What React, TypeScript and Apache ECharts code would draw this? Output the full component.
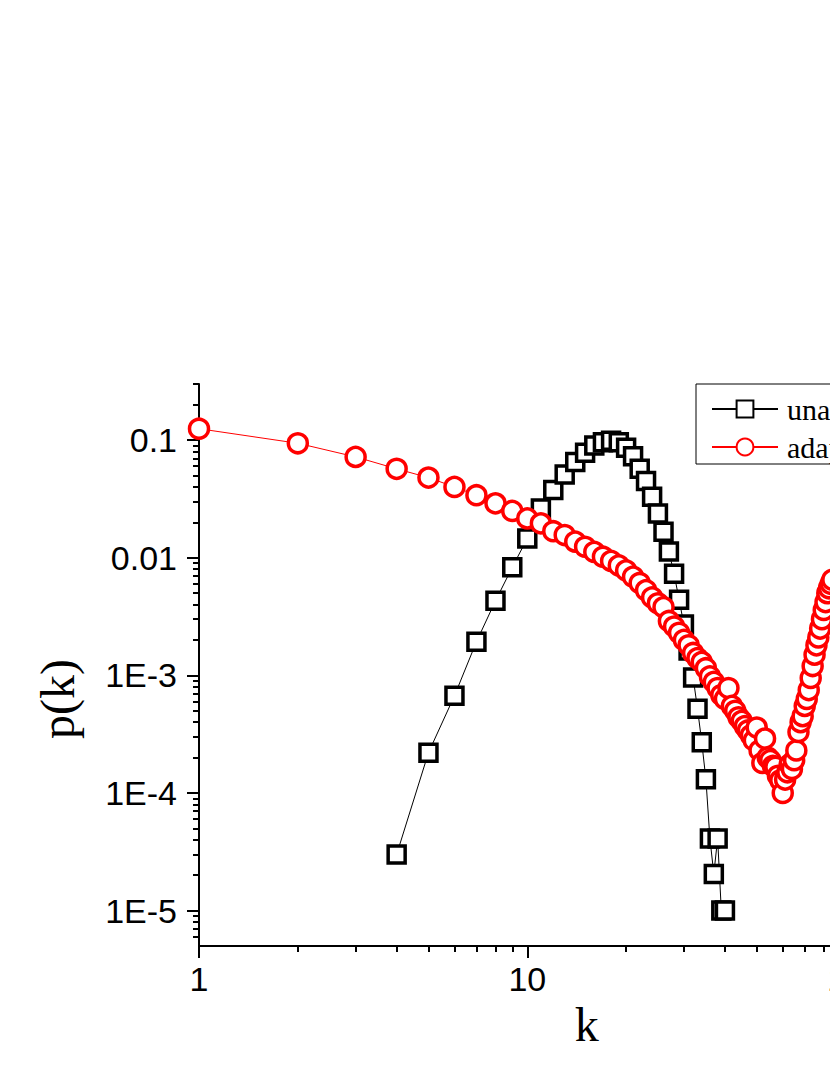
import React, { useEffect, useRef } from 'react';
import * as echarts from 'echarts';

// ---- data ----
const unadaptiveK = [4, 5, 6, 7, 8, 9, 10, 11, 12, 13, 14, 15, 16, 17, 18, 19, 20, 21, 22, 23, 24, 25, 26, 27, 28, 29, 30, 31, 32, 33, 34, 35, 36, 37, 38, 39, 40];
const unadaptiveP = [3.0e-5, 2.2e-4, 6.7e-4, 1.93e-3, 4.3e-3, 8.3e-3, 0.0146, 0.0262, 0.0376, 0.051, 0.065, 0.078, 0.09, 0.096, 0.099, 0.096, 0.086, 0.073, 0.057, 0.045, 0.033, 0.0238, 0.0166, 0.0113, 0.0073, 0.0044, 0.0027, 0.00163, 0.00096, 0.00052, 0.00027, 0.000131, 4.1e-5, 2.05e-5, 4.1e-5, 1.0e-5, 1.0e-5];

const adaptiveK = [1, 2, 3, 4, 5, 6, 7, 8, 9, 10, 11, 12, 13, 14, 15, 16, 17, 18, 19, 20, 21, 22, 23, 24, 25, 26, 27, 28, 29, 30, 31, 32, 33, 34, 35, 36, 37, 38, 39, 40, 41, 42, 43, 44, 45, 46, 47, 48, 49, 50, 51, 52, 53, 54, 55, 56, 57, 58, 59, 60, 61, 62, 63, 64, 65, 66, 67, 68, 69, 70, 71, 72, 73, 74, 75, 76, 77, 78, 79, 80, 81, 82, 83, 84, 85];
const adaptiveP = [0.125, 0.094, 0.072, 0.057, 0.048, 0.04, 0.034, 0.029, 0.025, 0.0216, 0.0196, 0.0168, 0.0156, 0.0137, 0.0124, 0.0112, 0.0102, 0.0094, 0.0086, 0.0078, 0.0069, 0.0061, 0.0053, 0.0046, 0.0041, 0.0038, 0.0029, 0.0026, 0.0023, 0.002, 0.0018, 0.00155, 0.0014, 0.0013, 0.00115, 0.00098, 0.00088, 0.00078, 0.00068, 0.00063, 0.00078, 0.00055, 0.0005, 0.00044, 0.00041, 0.00037, 0.00034, 0.00031, 0.00028, 0.00036, 0.00023, 0.00018, 0.00029, 0.0002, 0.00019, 0.00017, 0.000167, 0.00014, 0.000128, 0.0001, 0.00013, 0.00015, 0.000175, 0.00016, 0.00019, 0.00023, 0.00033, 0.0004, 0.00045, 0.00055, 0.00063, 0.00075, 0.00095, 0.0012, 0.0015, 0.0018, 0.0021, 0.0025, 0.003, 0.0036, 0.0042, 0.005, 0.0055, 0.006, 0.0065];

const seriesNames = ['unadaptive', 'adaptive'];

const xMajorTicks = [1, 10, 100];
const xMinorTicks = [2, 3, 4, 5, 6, 7, 8, 9, 20, 30, 40, 50, 60, 70, 80, 90, 200];
const yMajorTicks = [1e-5, 1e-4, 1e-3, 0.01, 0.1];
const yTickLabels = ['1E-5', '1E-4', '1E-3', '0.01', '0.1'];
const yMinorTicks = [6e-6, 7e-6, 8e-6, 9e-6, 2e-5, 3e-5, 4e-5, 5e-5, 6e-5, 7e-5, 8e-5, 9e-5, 2e-4, 3e-4, 4e-4, 5e-4, 6e-4, 7e-4, 8e-4, 9e-4, 2e-3, 3e-3, 4e-3, 5e-3, 6e-3, 7e-3, 8e-3, 9e-3, 0.02, 0.03, 0.04, 0.05, 0.06, 0.07, 0.08, 0.09, 0.2, 0.3];

const SANS = 'Liberation Sans';
const SERIF = 'Liberation Serif';

export default function App() {
  const ref = useRef<HTMLDivElement>(null);

  useEffect(() => {
    if (!ref.current) return;
    const chart = echarts.init(ref.current, undefined, { renderer: 'svg' });
    const tickLine = { color: '#000', width: 2 };
    const option: any = {
      animation: false,
      backgroundColor: '#fff',
      grid: { left: 199, top: 384, width: 755.4, height: 562, containLabel: false, outerBoundsMode: 'none' },
      legend: {
        orient: 'vertical',
        left: 696,
        top: 384,
        borderColor: '#000',
        borderWidth: 1,
        borderRadius: 0,
        padding: [10, 60, 2, 15],
        itemWidth: 66,
        itemHeight: 21,
        itemGap: 8,
        textStyle: { fontFamily: SERIF, fontSize: 30, color: '#000', lineHeight: 29, padding: [0, 0, 0, 4] },
        data: seriesNames,
      },
      xAxis: [
        {
          type: 'log',
          logBase: 10,
          min: 1,
          max: 200,
          position: 'bottom',
          axisLine: { show: true, lineStyle: tickLine },
          axisTick: { show: true, inside: false, length: 12, lineStyle: tickLine, customValues: xMajorTicks },
          axisLabel: { customValues: xMajorTicks, fontFamily: SANS, fontSize: 34, color: '#000', margin: 16 },
          splitLine: { show: false },
          name: 'k',
          nameLocation: 'middle',
          nameGap: 38,
          nameTextStyle: { fontFamily: SERIF, fontSize: 48, color: '#000', padding: [0, 0, 0, 20] },
        },
        {
          type: 'log',
          logBase: 10,
          min: 1,
          max: 200,
          position: 'bottom',
          gridIndex: 0,
          axisLine: { show: false },
          axisTick: { show: true, inside: false, length: 6, lineStyle: tickLine, customValues: xMinorTicks },
          axisLabel: { show: false },
          splitLine: { show: false },
        },
      ],
      yAxis: [
        {
          type: 'log',
          logBase: 10,
          min: 5e-6,
          max: 0.3,
          position: 'left',
          axisLine: { show: true, lineStyle: tickLine },
          axisTick: { show: true, inside: false, length: 12, lineStyle: tickLine, customValues: yMajorTicks },
          axisLabel: {
            customValues: yMajorTicks,
            fontFamily: SANS,
            fontSize: 34,
            color: '#000',
            margin: 22,
            formatter: (v: number) => {
              const i = yMajorTicks.findIndex((t) => Math.abs(Math.log10(t) - Math.log10(v)) < 1e-6);
              return i >= 0 ? yTickLabels[i] : '';
            },
          },
          splitLine: { show: false },
          name: 'p(k)',
          nameLocation: 'middle',
          nameGap: 118,
          nameTextStyle: { fontFamily: SERIF, fontSize: 48, color: '#000', padding: [0, 68, 0, 0] },
        },
        {
          type: 'log',
          logBase: 10,
          min: 5e-6,
          max: 0.3,
          position: 'left',
          gridIndex: 0,
          axisLine: { show: false },
          axisTick: { show: true, inside: false, length: 6, lineStyle: tickLine, customValues: yMinorTicks },
          axisLabel: { show: false },
          splitLine: { show: false },
        },
      ],
      series: [
        {
          name: seriesNames[0],
          type: 'line',
          xAxisIndex: 0,
          yAxisIndex: 0,
          data: unadaptiveK.map((k, i) => [k, unadaptiveP[i]]),
          symbol: 'rect',
          symbolSize: 17,
          itemStyle: { color: '#fff', borderColor: '#000', borderWidth: 3.5 },
          lineStyle: { color: '#000', width: 1 },
          z: 2,
        },
        {
          name: seriesNames[1],
          type: 'line',
          xAxisIndex: 0,
          yAxisIndex: 0,
          data: adaptiveK.map((k, i) => [k, adaptiveP[i]]),
          symbol: 'circle',
          symbolSize: 19,
          itemStyle: { color: '#fff', borderColor: '#ff0000', borderWidth: 3.5 },
          lineStyle: { color: '#ff0000', width: 1 },
          z: 3,
        },
      ],
    };
    chart.setOption(option);
    return () => chart.dispose();
  }, []);

  return (
    <div
      ref={ref}
      style={{ position: 'absolute', left: 0, top: 0, width: 830, height: 1075, background: '#fff' }}
    />
  );
}
